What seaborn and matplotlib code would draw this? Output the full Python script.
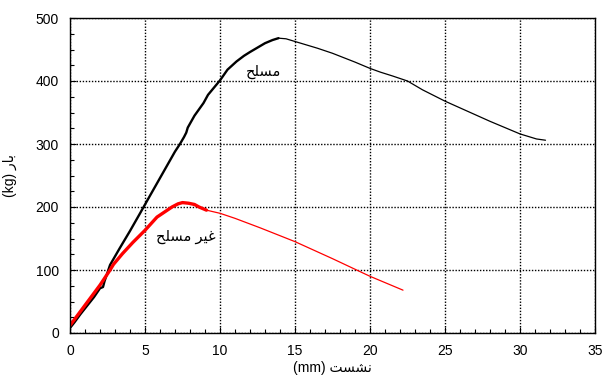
import numpy as np
import pandas as pd
import matplotlib
matplotlib.use("Agg")
import matplotlib.pyplot as plt
import seaborn as sns
from matplotlib.ticker import MultipleLocator

# Reinforced (مسلح) - thick part then thin part
rein_x_thick = [0.0, 0.3, 0.7, 1.2, 1.6, 2.0, 2.2, 2.3, 2.67, 3.3, 4.0, 4.67, 5.0, 6.0, 7.0, 7.33, 7.6, 7.75, 7.85, 8.3, 8.9, 9.2, 10.0, 10.5, 11.1, 11.6, 12.0, 12.5, 13.0, 13.5, 13.9]
rein_y_thick = [8, 17, 30, 45, 57, 71, 73, 82, 108, 134, 162, 190, 204, 246, 288, 300, 311, 318, 326, 345, 365, 378, 401, 418, 431, 440, 446, 453, 460, 465, 468]
rein_x_thin = [13.9, 14.4, 15.1, 16.5, 17.5, 19.0, 20.0, 20.7, 21.5, 22.5, 23.5, 25.0, 26.5, 28.0, 30.0, 31.1, 31.7]
rein_y_thin = [468, 467, 462, 452, 444, 430, 420, 414, 408, 400, 386, 368, 352, 336, 316, 308, 306]

# Unreinforced (غیر مسلح)
unr_x_thick = [0.0, 0.5, 1.0, 1.5, 2.0, 2.67, 2.9, 3.5, 4.2, 5.0, 5.8, 6.3, 6.8, 7.2, 7.5, 7.9, 8.3, 8.6, 9.1]
unr_y_thick = [12, 28, 44, 60, 76, 100, 109, 126, 144, 163, 184, 192, 200, 205, 207, 206, 204, 200, 195]
unr_x_thin = [9.1, 10.0, 11.0, 12.67, 15.0, 17.5, 20.0, 22.2]
unr_y_thin = [195, 190, 182, 167, 145, 118, 90, 68]

x_ticks = [0, 5, 10, 15, 20, 25, 30, 35]
y_ticks = [0, 100, 200, 300, 400, 500]

label_rein = "\uFEA2\uFEE0\uFEB4\uFEE3"                      # مسلح (shaped, visual order)
label_unr = "\uFEA2\uFEE0\uFEB4\uFEE3 \uFEAE\uFEF4\uFECF"     # غیر مسلح
xlabel = "(mm) \uFE96\uFEB4\uFEB8\uFEE7"                      # نشست (mm)
ylabel = "(kg) \uFEAD\uFE8E\uFE91"                            # بار (kg)

sns.set_theme(style="white")
plt.rcParams['font.family'] = ['Liberation Sans', 'DejaVu Sans']

fig = plt.figure(figsize=(6.02, 3.81), dpi=100)
ax = fig.add_axes([70/602, 1-333/381, 525/602, 315/381])

def seg(x, y):
    return pd.DataFrame({"x": x, "y": y})

sns.lineplot(data=seg(rein_x_thick, rein_y_thick), x="x", y="y", sort=False, estimator=None,
             color="black", linewidth=1.7, ax=ax)
sns.lineplot(data=seg(rein_x_thin, rein_y_thin), x="x", y="y", sort=False, estimator=None,
             color="black", linewidth=0.9, ax=ax)
sns.lineplot(data=seg(unr_x_thick, unr_y_thick), x="x", y="y", sort=False, estimator=None,
             color="#ff0000", linewidth=2.4, ax=ax)
sns.lineplot(data=seg(unr_x_thin, unr_y_thin), x="x", y="y", sort=False, estimator=None,
             color="#ff0000", linewidth=0.9, ax=ax)

ax.set_xlim(0, 35)
ax.set_ylim(0, 500)
ax.set_xticks(x_ticks)
ax.set_yticks(y_ticks)
ax.xaxis.set_minor_locator(MultipleLocator(1))
ax.yaxis.set_minor_locator(MultipleLocator(25))
ax.tick_params(axis="both", which="both", direction="in", colors="black",
               labelsize=10, pad=8, bottom=True, left=True, top=False, right=False)
ax.tick_params(which="major", length=4, width=0.8)
ax.tick_params(which="minor", length=3, width=0.8)
ax.grid(True, which="major", color="black", linestyle=(0, (1, 1.2)), linewidth=1.0)
for s in ax.spines.values():
    s.set_color("black")
    s.set_linewidth(1.0)
    s.set_visible(True)

ax.set_xlabel(xlabel, fontsize=10, color="black", labelpad=2)
ax.set_ylabel(ylabel, fontsize=10, color="black", labelpad=13)

ax.text(12.9, 415, label_rein, fontsize=10.5, ha="center", va="center", color="black")
ax.text(7.7, 152, label_unr, fontsize=10.5, ha="center", va="center", color="black")

fig.savefig("out.png", dpi=100)
